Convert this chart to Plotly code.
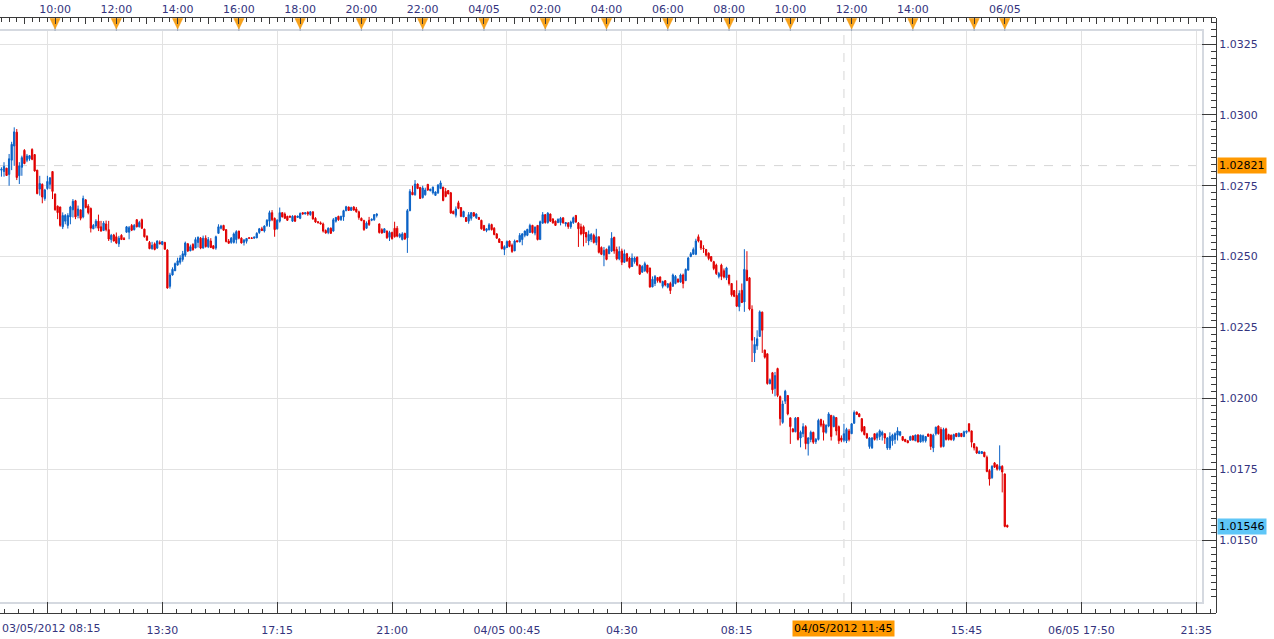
import plotly.graph_objects as go

# ---------------- data (5-minute bars) ----------------
open_ = [
    1.02805, 1.02800, 1.02812, 1.02790, 1.02840, 1.02890, 1.02939, 1.02785, 1.02815, 1.02875,
    1.02840, 1.02845, 1.02878, 1.02860, 1.02805, 1.02738, 1.02755, 1.02705, 1.02740, 1.02755,
    1.02800, 1.02721, 1.02678, 1.02675, 1.02605, 1.02625, 1.02610, 1.02640, 1.02665, 1.02697,
    1.02645, 1.02665, 1.02640, 1.02700, 1.02678, 1.02670, 1.02598, 1.02608, 1.02625, 1.02605,
    1.02592, 1.02615, 1.02595, 1.02560, 1.02576, 1.02570, 1.02545, 1.02575, 1.02564, 1.02586,
    1.02586, 1.02610, 1.02595, 1.02630, 1.02605, 1.02630, 1.02597, 1.02572, 1.02550, 1.02528,
    1.02545, 1.02530, 1.02550, 1.02543, 1.02550, 1.02523, 1.02395, 1.02435, 1.02450, 1.02470,
    1.02480, 1.02490, 1.02505, 1.02545, 1.02520, 1.02543, 1.02530, 1.02550, 1.02565, 1.02530,
    1.02565, 1.02535, 1.02555, 1.02538, 1.02530, 1.02582, 1.02600, 1.02610, 1.02595, 1.02555,
    1.02550, 1.02550, 1.02560, 1.02590, 1.02565, 1.02550, 1.02554, 1.02566, 1.02566, 1.02565,
    1.02566, 1.02585, 1.02598, 1.02590, 1.02610, 1.02625, 1.02655, 1.02635, 1.02598, 1.02625,
    1.02655, 1.02650, 1.02642, 1.02643, 1.02625, 1.02643, 1.02638, 1.02635, 1.02655, 1.02650,
    1.02656, 1.02648, 1.02658, 1.02635, 1.02623, 1.02619, 1.02615, 1.02592, 1.02585, 1.02600,
    1.02590, 1.02625, 1.02642, 1.02630, 1.02640, 1.02662, 1.02675, 1.02663, 1.02675, 1.02668,
    1.02658, 1.02635, 1.02627, 1.02600, 1.02628, 1.02628, 1.02630, 1.02645, 1.02615, 1.02595,
    1.02585, 1.02590, 1.02568, 1.02585, 1.02600, 1.02600, 1.02570, 1.02560, 1.02582, 1.02566,
    1.02662, 1.02727, 1.02718, 1.02756, 1.02744, 1.02708, 1.02718, 1.02755, 1.02732, 1.02725,
    1.02716, 1.02725, 1.02740, 1.02745, 1.02730, 1.02733, 1.02725, 1.02660, 1.02646, 1.02690,
    1.02673, 1.02640, 1.02638, 1.02625, 1.02635, 1.02655, 1.02637, 1.02638, 1.02628, 1.02610,
    1.02592, 1.02595, 1.02613, 1.02600, 1.02580, 1.02562, 1.02553, 1.02525, 1.02532, 1.02555,
    1.02540, 1.02520, 1.02556, 1.02552, 1.02560, 1.02575, 1.02575, 1.02585, 1.02610, 1.02583,
    1.02610, 1.02560, 1.02618, 1.02648, 1.02620, 1.02650, 1.02633, 1.02625, 1.02620, 1.02620,
    1.02637, 1.02615, 1.02618, 1.02605, 1.02620, 1.02645, 1.02618, 1.02605, 1.02605, 1.02585,
    1.02555, 1.02560, 1.02575, 1.02550, 1.02570, 1.02532, 1.02505, 1.02526, 1.02510, 1.02520,
    1.02568, 1.02525, 1.02492, 1.02520, 1.02480, 1.02510, 1.02495, 1.02465, 1.02482, 1.02498,
    1.02470, 1.02445, 1.02450, 1.02470, 1.02460, 1.02393, 1.02405, 1.02426, 1.02428, 1.02395,
    1.02415, 1.02392, 1.02405, 1.02395, 1.02405, 1.02420, 1.02410, 1.02435, 1.02415, 1.02452,
    1.02500, 1.02508, 1.02508, 1.02570, 1.02555, 1.02530, 1.02525, 1.02512, 1.02500, 1.02482,
    1.02470, 1.02430, 1.02470, 1.02450, 1.02425, 1.02435, 1.02405, 1.02380, 1.02363, 1.02323,
    1.02381, 1.02340, 1.02452, 1.02425, 1.02314, 1.02160, 1.02185, 1.02218, 1.02304, 1.02170,
    1.02157, 1.02052, 1.02090, 1.02035, 1.02105, 1.02006, 1.01915, 1.01990, 1.02010, 1.01931,
    1.01892, 1.01882, 1.01932, 1.01860, 1.01875, 1.01900, 1.01840, 1.01855, 1.01880, 1.01847,
    1.01855, 1.01925, 1.01910, 1.01880, 1.01902, 1.01940, 1.01900, 1.01932, 1.01900, 1.01860,
    1.01852, 1.01850, 1.01885, 1.01875, 1.01912, 1.01952, 1.01945, 1.01928, 1.01900, 1.01875,
    1.01830, 1.01825, 1.01875, 1.01860, 1.01865, 1.01870, 1.01875, 1.01825, 1.01825, 1.01850,
    1.01855, 1.01870, 1.01870, 1.01865, 1.01855, 1.01850, 1.01852, 1.01867, 1.01850, 1.01871,
    1.01846, 1.01850, 1.01850, 1.01874, 1.01872, 1.01825, 1.01875, 1.01902, 1.01890, 1.01830,
    1.01892, 1.01872, 1.01870, 1.01855, 1.01876, 1.01865, 1.01876, 1.01865, 1.01880, 1.01910,
    1.01885, 1.01840, 1.01827, 1.01805, 1.01805, 1.01810, 1.01792, 1.01745, 1.01720, 1.01772,
    1.01765, 1.01750, 1.01760, 1.01733, 1.01552,
]
high = [
    1.02815, 1.02833, 1.02813, 1.02862, 1.02905, 1.02956, 1.02950, 1.02833, 1.02856, 1.02879,
    1.02862, 1.02858, 1.02882, 1.02860, 1.02806, 1.02785, 1.02758, 1.02739, 1.02785, 1.02780,
    1.02800, 1.02722, 1.02680, 1.02676, 1.02656, 1.02650, 1.02653, 1.02679, 1.02703, 1.02700,
    1.02680, 1.02665, 1.02715, 1.02703, 1.02685, 1.02673, 1.02615, 1.02632, 1.02648, 1.02626,
    1.02625, 1.02627, 1.02626, 1.02580, 1.02580, 1.02585, 1.02573, 1.02579, 1.02569, 1.02608,
    1.02608, 1.02615, 1.02615, 1.02632, 1.02626, 1.02634, 1.02598, 1.02575, 1.02555, 1.02552,
    1.02550, 1.02557, 1.02557, 1.02555, 1.02552, 1.02526, 1.02443, 1.02462, 1.02479, 1.02496,
    1.02505, 1.02520, 1.02553, 1.02548, 1.02542, 1.02547, 1.02568, 1.02571, 1.02569, 1.02574,
    1.02575, 1.02569, 1.02565, 1.02540, 1.02574, 1.02614, 1.02612, 1.02612, 1.02597, 1.02562,
    1.02569, 1.02585, 1.02593, 1.02591, 1.02568, 1.02562, 1.02565, 1.02568, 1.02568, 1.02570,
    1.02586, 1.02601, 1.02605, 1.02610, 1.02632, 1.02662, 1.02664, 1.02638, 1.02632, 1.02673,
    1.02656, 1.02656, 1.02644, 1.02644, 1.02646, 1.02646, 1.02644, 1.02656, 1.02656, 1.02657,
    1.02660, 1.02660, 1.02659, 1.02639, 1.02625, 1.02624, 1.02620, 1.02596, 1.02603, 1.02603,
    1.02636, 1.02640, 1.02644, 1.02644, 1.02665, 1.02679, 1.02676, 1.02676, 1.02678, 1.02675,
    1.02662, 1.02638, 1.02630, 1.02624, 1.02640, 1.02634, 1.02650, 1.02653, 1.02617, 1.02600,
    1.02600, 1.02592, 1.02591, 1.02588, 1.02623, 1.02608, 1.02583, 1.02586, 1.02584, 1.02668,
    1.02738, 1.02750, 1.02770, 1.02758, 1.02746, 1.02750, 1.02743, 1.02756, 1.02739, 1.02747,
    1.02730, 1.02756, 1.02768, 1.02746, 1.02742, 1.02735, 1.02728, 1.02662, 1.02677, 1.02697,
    1.02674, 1.02662, 1.02639, 1.02657, 1.02657, 1.02657, 1.02653, 1.02640, 1.02630, 1.02610,
    1.02599, 1.02618, 1.02616, 1.02604, 1.02583, 1.02565, 1.02554, 1.02540, 1.02557, 1.02557,
    1.02546, 1.02560, 1.02557, 1.02583, 1.02583, 1.02592, 1.02598, 1.02616, 1.02612, 1.02606,
    1.02611, 1.02627, 1.02657, 1.02650, 1.02657, 1.02652, 1.02635, 1.02627, 1.02635, 1.02640,
    1.02638, 1.02622, 1.02622, 1.02627, 1.02641, 1.02647, 1.02622, 1.02616, 1.02610, 1.02587,
    1.02592, 1.02583, 1.02581, 1.02598, 1.02570, 1.02536, 1.02534, 1.02528, 1.02540, 1.02586,
    1.02570, 1.02535, 1.02536, 1.02528, 1.02525, 1.02513, 1.02499, 1.02511, 1.02500, 1.02500,
    1.02472, 1.02470, 1.02482, 1.02470, 1.02460, 1.02430, 1.02435, 1.02427, 1.02430, 1.02415,
    1.02417, 1.02406, 1.02411, 1.02440, 1.02435, 1.02423, 1.02440, 1.02440, 1.02458, 1.02499,
    1.02516, 1.02532, 1.02563, 1.02578, 1.02558, 1.02540, 1.02527, 1.02515, 1.02500, 1.02485,
    1.02475, 1.02446, 1.02475, 1.02458, 1.02464, 1.02435, 1.02405, 1.02382, 1.02416, 1.02381,
    1.02405, 1.02526, 1.02519, 1.02428, 1.02328, 1.02216, 1.02240, 1.02310, 1.02306, 1.02172,
    1.02158, 1.02070, 1.02093, 1.02093, 1.02108, 1.02010, 1.01992, 1.02030, 1.02010, 1.01932,
    1.01895, 1.01934, 1.01934, 1.01886, 1.01912, 1.01905, 1.01863, 1.01886, 1.01882, 1.01860,
    1.01928, 1.01928, 1.01922, 1.01908, 1.01951, 1.01940, 1.01940, 1.01934, 1.01904, 1.01869,
    1.01910, 1.01896, 1.01892, 1.01912, 1.01957, 1.01952, 1.01948, 1.01930, 1.01902, 1.01878,
    1.01863, 1.01863, 1.01875, 1.01880, 1.01890, 1.01886, 1.01876, 1.01863, 1.01880, 1.01875,
    1.01880, 1.01898, 1.01884, 1.01865, 1.01857, 1.01853, 1.01868, 1.01870, 1.01872, 1.01872,
    1.01872, 1.01872, 1.01867, 1.01875, 1.01875, 1.01875, 1.01900, 1.01904, 1.01898, 1.01896,
    1.01896, 1.01875, 1.01872, 1.01875, 1.01877, 1.01879, 1.01877, 1.01886, 1.01886, 1.01912,
    1.01886, 1.01842, 1.01830, 1.01816, 1.01814, 1.01811, 1.01798, 1.01750, 1.01764, 1.01775,
    1.01768, 1.01834, 1.01764, 1.01735, 1.01554,
]
low = [
    1.02782, 1.02782, 1.02785, 1.02750, 1.02805, 1.02820, 1.02770, 1.02756, 1.02785, 1.02826,
    1.02833, 1.02838, 1.02840, 1.02800, 1.02720, 1.02715, 1.02688, 1.02697, 1.02736, 1.02738,
    1.02703, 1.02662, 1.02632, 1.02605, 1.02597, 1.02614, 1.02599, 1.02614, 1.02638, 1.02632,
    1.02635, 1.02628, 1.02635, 1.02670, 1.02649, 1.02585, 1.02597, 1.02600, 1.02590, 1.02588,
    1.02590, 1.02589, 1.02555, 1.02549, 1.02553, 1.02544, 1.02534, 1.02559, 1.02559, 1.02584,
    1.02561, 1.02590, 1.02592, 1.02603, 1.02603, 1.02597, 1.02567, 1.02555, 1.02526, 1.02524,
    1.02522, 1.02527, 1.02543, 1.02540, 1.02524, 1.02387, 1.02387, 1.02433, 1.02449, 1.02468,
    1.02472, 1.02482, 1.02499, 1.02516, 1.02520, 1.02521, 1.02530, 1.02532, 1.02526, 1.02528,
    1.02532, 1.02530, 1.02530, 1.02526, 1.02524, 1.02581, 1.02596, 1.02591, 1.02550, 1.02545,
    1.02545, 1.02546, 1.02546, 1.02561, 1.02546, 1.02539, 1.02546, 1.02564, 1.02563, 1.02563,
    1.02565, 1.02580, 1.02590, 1.02585, 1.02605, 1.02605, 1.02625, 1.02570, 1.02595, 1.02620,
    1.02638, 1.02633, 1.02626, 1.02638, 1.02622, 1.02622, 1.02636, 1.02632, 1.02648, 1.02649,
    1.02644, 1.02644, 1.02630, 1.02619, 1.02618, 1.02614, 1.02585, 1.02581, 1.02579, 1.02580,
    1.02588, 1.02620, 1.02626, 1.02626, 1.02626, 1.02660, 1.02661, 1.02662, 1.02662, 1.02655,
    1.02630, 1.02625, 1.02591, 1.02598, 1.02608, 1.02625, 1.02626, 1.02638, 1.02581, 1.02581,
    1.02583, 1.02563, 1.02555, 1.02560, 1.02567, 1.02568, 1.02565, 1.02557, 1.02559, 1.02513,
    1.02660, 1.02717, 1.02715, 1.02738, 1.02703, 1.02705, 1.02715, 1.02732, 1.02731, 1.02719,
    1.02714, 1.02721, 1.02738, 1.02695, 1.02709, 1.02720, 1.02651, 1.02650, 1.02638, 1.02667,
    1.02639, 1.02639, 1.02622, 1.02616, 1.02627, 1.02641, 1.02633, 1.02630, 1.02595, 1.02590,
    1.02586, 1.02592, 1.02592, 1.02575, 1.02563, 1.02548, 1.02525, 1.02505, 1.02530, 1.02533,
    1.02513, 1.02520, 1.02551, 1.02550, 1.02540, 1.02568, 1.02572, 1.02583, 1.02581, 1.02575,
    1.02557, 1.02560, 1.02616, 1.02616, 1.02616, 1.02622, 1.02616, 1.02608, 1.02618, 1.02610,
    1.02616, 1.02606, 1.02598, 1.02598, 1.02615, 1.02619, 1.02534, 1.02575, 1.02536, 1.02548,
    1.02540, 1.02551, 1.02546, 1.02540, 1.02511, 1.02505, 1.02466, 1.02487, 1.02510, 1.02516,
    1.02510, 1.02487, 1.02487, 1.02470, 1.02478, 1.02481, 1.02458, 1.02464, 1.02475, 1.02466,
    1.02435, 1.02443, 1.02446, 1.02440, 1.02390, 1.02392, 1.02396, 1.02408, 1.02406, 1.02388,
    1.02395, 1.02388, 1.02368, 1.02394, 1.02402, 1.02408, 1.02408, 1.02388, 1.02415, 1.02452,
    1.02498, 1.02508, 1.02505, 1.02550, 1.02523, 1.02513, 1.02500, 1.02487, 1.02481, 1.02452,
    1.02435, 1.02423, 1.02417, 1.02423, 1.02417, 1.02398, 1.02359, 1.02357, 1.02322, 1.02307,
    1.02336, 1.02305, 1.02414, 1.02310, 1.02128, 1.02128, 1.02171, 1.02218, 1.02160, 1.02140,
    1.02048, 1.02049, 1.02016, 1.02007, 1.02004, 1.01904, 1.01910, 1.01980, 1.01940, 1.01839,
    1.01880, 1.01880, 1.01851, 1.01827, 1.01863, 1.01820, 1.01798, 1.01845, 1.01839, 1.01839,
    1.01851, 1.01898, 1.01851, 1.01875, 1.01898, 1.01851, 1.01898, 1.01869, 1.01839, 1.01845,
    1.01845, 1.01842, 1.01848, 1.01875, 1.01910, 1.01942, 1.01934, 1.01880, 1.01869, 1.01857,
    1.01822, 1.01822, 1.01851, 1.01851, 1.01853, 1.01851, 1.01839, 1.01818, 1.01818, 1.01833,
    1.01839, 1.01851, 1.01866, 1.01849, 1.01845, 1.01842, 1.01851, 1.01851, 1.01849, 1.01844,
    1.01844, 1.01844, 1.01844, 1.01864, 1.01818, 1.01810, 1.01869, 1.01872, 1.01825, 1.01827,
    1.01851, 1.01851, 1.01851, 1.01849, 1.01863, 1.01863, 1.01863, 1.01863, 1.01875, 1.01880,
    1.01827, 1.01816, 1.01804, 1.01804, 1.01804, 1.01792, 1.01739, 1.01692, 1.01716, 1.01754,
    1.01745, 1.01745, 1.01668, 1.01545, 1.01544,
]
close = [
    1.02808, 1.02818, 1.02786, 1.02845, 1.02896, 1.02940, 1.02779, 1.02820, 1.02849, 1.02828,
    1.02855, 1.02856, 1.02843, 1.02802, 1.02722, 1.02758, 1.02710, 1.02735, 1.02765, 1.02778,
    1.02730, 1.02665, 1.02655, 1.02610, 1.02645, 1.02645, 1.02645, 1.02675, 1.02695, 1.02640,
    1.02668, 1.02635, 1.02705, 1.02673, 1.02655, 1.02600, 1.02610, 1.02625, 1.02600, 1.02590,
    1.02618, 1.02595, 1.02562, 1.02575, 1.02555, 1.02548, 1.02565, 1.02560, 1.02560, 1.02605,
    1.02602, 1.02593, 1.02610, 1.02605, 1.02620, 1.02600, 1.02570, 1.02558, 1.02528, 1.02540,
    1.02525, 1.02555, 1.02545, 1.02553, 1.02526, 1.02389, 1.02435, 1.02455, 1.02475, 1.02485,
    1.02495, 1.02510, 1.02548, 1.02520, 1.02535, 1.02524, 1.02560, 1.02568, 1.02530, 1.02565,
    1.02535, 1.02560, 1.02532, 1.02528, 1.02570, 1.02605, 1.02608, 1.02593, 1.02553, 1.02547,
    1.02565, 1.02580, 1.02588, 1.02565, 1.02548, 1.02558, 1.02564, 1.02565, 1.02564, 1.02569,
    1.02582, 1.02598, 1.02592, 1.02608, 1.02628, 1.02655, 1.02630, 1.02595, 1.02628, 1.02655,
    1.02640, 1.02635, 1.02628, 1.02639, 1.02642, 1.02625, 1.02643, 1.02652, 1.02650, 1.02655,
    1.02650, 1.02658, 1.02633, 1.02622, 1.02619, 1.02615, 1.02590, 1.02583, 1.02600, 1.02582,
    1.02630, 1.02638, 1.02630, 1.02642, 1.02662, 1.02676, 1.02663, 1.02673, 1.02664, 1.02658,
    1.02638, 1.02627, 1.02595, 1.02618, 1.02613, 1.02632, 1.02648, 1.02650, 1.02585, 1.02583,
    1.02598, 1.02566, 1.02585, 1.02563, 1.02570, 1.02572, 1.02578, 1.02580, 1.02562, 1.02662,
    1.02730, 1.02718, 1.02756, 1.02740, 1.02705, 1.02742, 1.02735, 1.02735, 1.02738, 1.02745,
    1.02728, 1.02752, 1.02760, 1.02698, 1.02712, 1.02721, 1.02654, 1.02651, 1.02668, 1.02670,
    1.02642, 1.02659, 1.02624, 1.02648, 1.02655, 1.02643, 1.02650, 1.02631, 1.02598, 1.02593,
    1.02598, 1.02612, 1.02595, 1.02578, 1.02565, 1.02550, 1.02528, 1.02535, 1.02553, 1.02536,
    1.02518, 1.02555, 1.02552, 1.02575, 1.02580, 1.02590, 1.02596, 1.02610, 1.02585, 1.02604,
    1.02560, 1.02623, 1.02648, 1.02620, 1.02653, 1.02625, 1.02619, 1.02610, 1.02631, 1.02635,
    1.02619, 1.02620, 1.02606, 1.02622, 1.02637, 1.02622, 1.02598, 1.02580, 1.02580, 1.02569,
    1.02578, 1.02578, 1.02550, 1.02570, 1.02515, 1.02508, 1.02522, 1.02490, 1.02535, 1.02565,
    1.02520, 1.02492, 1.02518, 1.02480, 1.02510, 1.02485, 1.02462, 1.02495, 1.02495, 1.02470,
    1.02438, 1.02465, 1.02475, 1.02445, 1.02393, 1.02420, 1.02430, 1.02415, 1.02410, 1.02412,
    1.02400, 1.02404, 1.02380, 1.02435, 1.02430, 1.02410, 1.02435, 1.02405, 1.02455, 1.02495,
    1.02510, 1.02525, 1.02555, 1.02555, 1.02530, 1.02528, 1.02505, 1.02493, 1.02485, 1.02458,
    1.02440, 1.02440, 1.02430, 1.02428, 1.02460, 1.02405, 1.02365, 1.02360, 1.02325, 1.02370,
    1.02338, 1.02455, 1.02415, 1.02315, 1.02205, 1.02190, 1.02210, 1.02305, 1.02240, 1.02145,
    1.02052, 1.02065, 1.02030, 1.02080, 1.02010, 1.01928, 1.01980, 1.02025, 1.01945, 1.01900,
    1.01882, 1.01930, 1.01855, 1.01880, 1.01900, 1.01840, 1.01860, 1.01880, 1.01845, 1.01855,
    1.01922, 1.01905, 1.01880, 1.01905, 1.01945, 1.01865, 1.01935, 1.01885, 1.01850, 1.01852,
    1.01875, 1.01890, 1.01855, 1.01910, 1.01950, 1.01943, 1.01935, 1.01885, 1.01872, 1.01860,
    1.01860, 1.01860, 1.01855, 1.01875, 1.01885, 1.01880, 1.01860, 1.01860, 1.01865, 1.01870,
    1.01875, 1.01885, 1.01882, 1.01852, 1.01848, 1.01843, 1.01865, 1.01853, 1.01870, 1.01846,
    1.01870, 1.01868, 1.01865, 1.01866, 1.01830, 1.01870, 1.01898, 1.01875, 1.01830, 1.01890,
    1.01855, 1.01855, 1.01854, 1.01872, 1.01865, 1.01877, 1.01865, 1.01882, 1.01884, 1.01885,
    1.01845, 1.01825, 1.01807, 1.01812, 1.01812, 1.01794, 1.01742, 1.01715, 1.01760, 1.01757,
    1.01750, 1.01760, 1.01740, 1.01548, 1.01546,
]

# reference price line and crosshair
ref_price = 1.02821
crosshair_bar = 330
crosshair_label = "04/05/2012 11:45"
first_label = "03/05/2012 08:15"

# price axis labels
price_ticks = [1.0150, 1.0175, 1.0200, 1.0225, 1.0250, 1.0275, 1.0300, 1.0325]

# bottom time axis (bar index -> label)
bottom_tick_bars = [18, 63, 108, 153, 198, 243, 288, 333, 378, 423, 468]
bottom_labels = ["", "13:30", "17:15", "21:00", "04/05 00:45", "04:30", "08:15", "", "15:45", "06/05 17:50", "21:35"]

# top time ruler (hourly ticks, labels every 2 hours)
top_hour_bars = list(range(9, 470, 12))
top_label_bars = [21, 45, 69, 93, 117, 141, 165, 189, 213, 237, 261, 285, 309, 333, 357, 393]
top_labels = ["10:00", "12:00", "14:00", "16:00", "18:00", "20:00", "22:00", "04/05", "02:00",
              "04:00", "06:00", "08:00", "10:00", "12:00", "14:00", "06/05"]
marker_bars = top_label_bars + [381]

# ---------------- layout geometry (pixels of the 1274x639 picture) ----------------
W, H = 1274, 639
PX_PER_BAR = 2.553
BAR0_PX = 1.45
PLOT_TOP, PLOT_BOTTOM, PLOT_RIGHT = 31, 602, 1202
RULER_Y = 18          # top time ruler line
BOTTOM_AXIS_Y = 613   # bottom time axis line
AXIS_RIGHT = 1216     # right price axis line
LABEL_Y = 628         # centre of the bottom time labels


def bar_at(px):
    return (px - BAR0_PX) / PX_PER_BAR


def price_at(py):
    return 1.0325 - (py - 44) / 70.86 * 0.0025


def xd(px):
    return px / W


def yd(py):
    return (H - py) / H


FONT = "DejaVu Sans"
TXT = "#34347e"
AXC = "#3a3a3a"
GRID = "#e2e2e2"
BORDER = "#d5d9e0"

bars = list(range(len(close)))
top_text = [top_labels[top_label_bars.index(b)] if b in top_label_bars else "" for b in top_hour_bars]
minor_price_ticks = [round(1.01300 + 0.00025 * k, 5) for k in range(82)]

# ruler triangles (narrow, pointing down) built from the marker positions
tri_x, tri_y, stem_x, stem_y = [], [], [], []
for b in marker_bars:
    tri_x += [b - 2.0, b + 2.0, b, b - 2.0, None]
    tri_y += [RULER_Y + 0.5, RULER_Y + 0.5, RULER_Y + 11, RULER_Y + 0.5, None]
    stem_x += [b, b, None]
    stem_y += [RULER_Y + 9, PLOT_TOP, None]

fig = go.Figure()
fig.add_trace(go.Candlestick(
    x=bars, open=open_, high=high, low=low, close=close,
    increasing=dict(line=dict(color="#0a62c6", width=1), fillcolor="#0a62c6"),
    decreasing=dict(line=dict(color="#e00000", width=1), fillcolor="#e00000"),
    whiskerwidth=0, hoverinfo="skip", showlegend=False,
    xaxis="x", yaxis="y",
))
fig.add_trace(go.Scatter(x=stem_x, y=stem_y, mode="lines", line=dict(color="#9aa6b8", width=1),
                         xaxis="x2", yaxis="y2", hoverinfo="skip", showlegend=False))
fig.add_trace(go.Scatter(x=tri_x, y=tri_y, mode="lines", fill="toself", fillcolor="#f7a21b",
                         line=dict(color="#f29a12", width=0.5),
                         xaxis="x2", yaxis="y2", hoverinfo="skip", showlegend=False))
# carrier traces for the bottom time axis and the price label axis
fig.add_trace(go.Scatter(x=[0], y=[0.5], mode="markers", marker=dict(opacity=0),
                         xaxis="x3", yaxis="y3", hoverinfo="skip", showlegend=False))
fig.add_trace(go.Scatter(x=[0], y=[close[0]], mode="markers", marker=dict(opacity=0),
                         xaxis="x4", yaxis="y4", hoverinfo="skip", showlegend=False))

tickfont = dict(family=FONT, size=11, color=TXT)

fig.update_layout(
    width=W, height=H,
    margin=dict(l=0, r=0, t=0, b=0),
    paper_bgcolor="white", plot_bgcolor="rgba(0,0,0,0)",
    showlegend=False,
    font=dict(family=FONT, size=11, color=TXT),
    xaxis=dict(
        domain=[xd(0), xd(PLOT_RIGHT)], range=[bar_at(0), bar_at(PLOT_RIGHT)], anchor="y",
        tickmode="array", tickvals=bottom_tick_bars, showticklabels=False, ticks="",
        showgrid=True, gridcolor=GRID, gridwidth=1, zeroline=False,
        showline=True, linecolor=BORDER, linewidth=2, mirror=True,
        rangeslider=dict(visible=False), fixedrange=True,
    ),
    yaxis=dict(
        domain=[yd(PLOT_BOTTOM), yd(PLOT_TOP)], range=[price_at(PLOT_BOTTOM), price_at(PLOT_TOP)], anchor="x",
        tickmode="array", tickvals=price_ticks, showticklabels=False, ticks="",
        showgrid=True, gridcolor=GRID, gridwidth=1, zeroline=False,
        showline=True, linecolor=BORDER, linewidth=2, mirror=True, fixedrange=True,
    ),
    xaxis2=dict(
        domain=[xd(0), xd(AXIS_RIGHT)], range=[bar_at(0), bar_at(AXIS_RIGHT)], anchor="y2", side="top",
        tickmode="array", tickvals=top_hour_bars, ticktext=top_text,
        ticks="inside", ticklen=6, tickwidth=1, tickcolor=AXC,
        minor=dict(tickmode="linear", tick0=0, dtick=3, ticks="inside", ticklen=4, tickcolor=AXC),
        showline=True, linecolor=AXC, linewidth=1, showgrid=False, zeroline=False,
        tickfont=tickfont, fixedrange=True,
    ),
    yaxis2=dict(domain=[yd(PLOT_TOP), yd(RULER_Y)], range=[PLOT_TOP, RULER_Y], anchor="x2",
                visible=False, fixedrange=True),
    xaxis3=dict(
        domain=[xd(0), xd(AXIS_RIGHT)], range=[bar_at(0), bar_at(AXIS_RIGHT)], anchor="y3", side="bottom",
        tickmode="array", tickvals=bottom_tick_bars, ticktext=bottom_labels,
        ticks="inside", ticklen=BOTTOM_AXIS_Y - PLOT_BOTTOM, tickwidth=1, tickcolor=AXC,
        minor=dict(tickmode="linear", tick0=18, dtick=5.625, ticks="inside", ticklen=4, tickcolor=AXC),
        showline=True, linecolor=AXC, linewidth=1, showgrid=False, zeroline=False,
        tickfont=tickfont, ticklabelstandoff=7, fixedrange=True,
    ),
    yaxis3=dict(domain=[yd(BOTTOM_AXIS_Y), yd(PLOT_BOTTOM)], range=[0, 1], anchor="x3",
                visible=False, fixedrange=True),
    xaxis4=dict(domain=[xd(0), xd(PLOT_RIGHT)], range=[bar_at(0), bar_at(PLOT_RIGHT)], anchor="y4",
                visible=False, fixedrange=True),
    yaxis4=dict(
        domain=[yd(BOTTOM_AXIS_Y), yd(RULER_Y)], range=[price_at(BOTTOM_AXIS_Y), price_at(RULER_Y)],
        anchor="free", position=xd(AXIS_RIGHT), side="right",
        tickmode="array", tickvals=price_ticks, tickformat=".4f",
        ticks="inside", ticklen=14, tickwidth=1, tickcolor=AXC,
        minor=dict(tickmode="array", tickvals=minor_price_ticks, ticks="inside", ticklen=5, tickcolor=AXC),
        showline=True, linecolor=AXC, linewidth=1, showgrid=False, zeroline=False,
        tickfont=tickfont, fixedrange=True,
    ),
    shapes=[
        dict(type="line", xref="x domain", x0=0, x1=1, yref="y", y0=ref_price, y1=ref_price,
             line=dict(color="#d6d6d6", width=1, dash="dash"), layer="below"),
        dict(type="line", xref="x", x0=crosshair_bar, x1=crosshair_bar, yref="y domain", y0=0, y1=1,
             line=dict(color="#d6d6d6", width=1, dash="dash"), layer="below"),
    ],
    annotations=[
        dict(text=first_label, xref="paper", x=0, xanchor="left", yref="paper", y=yd(LABEL_Y),
             yanchor="middle", showarrow=False, font=tickfont),
        dict(text=crosshair_label, xref="x", x=crosshair_bar, xanchor="center", yref="paper", y=yd(LABEL_Y),
             yanchor="middle", showarrow=False, bgcolor="#ff9900", borderpad=1,
             font=dict(family=FONT, size=11, color="black")),
        dict(text=f"{ref_price:.5f}", xref="paper", x=xd(AXIS_RIGHT + 1), xanchor="left", yref="y", y=ref_price,
             yanchor="middle", showarrow=False, bgcolor="#ff9900", borderpad=1,
             font=dict(family=FONT, size=11, color="black")),
        dict(text=f"{close[-1]:.5f}", xref="paper", x=xd(AXIS_RIGHT + 1), xanchor="left", yref="y", y=close[-1],
             yanchor="middle", showarrow=False, bgcolor="#5fc6f7", borderpad=1,
             font=dict(family=FONT, size=11, color="black")),
    ],
)

fig.write_html("out.html", config={"displayModeBar": False},
               post_script="document.body.style.margin='0px';")
